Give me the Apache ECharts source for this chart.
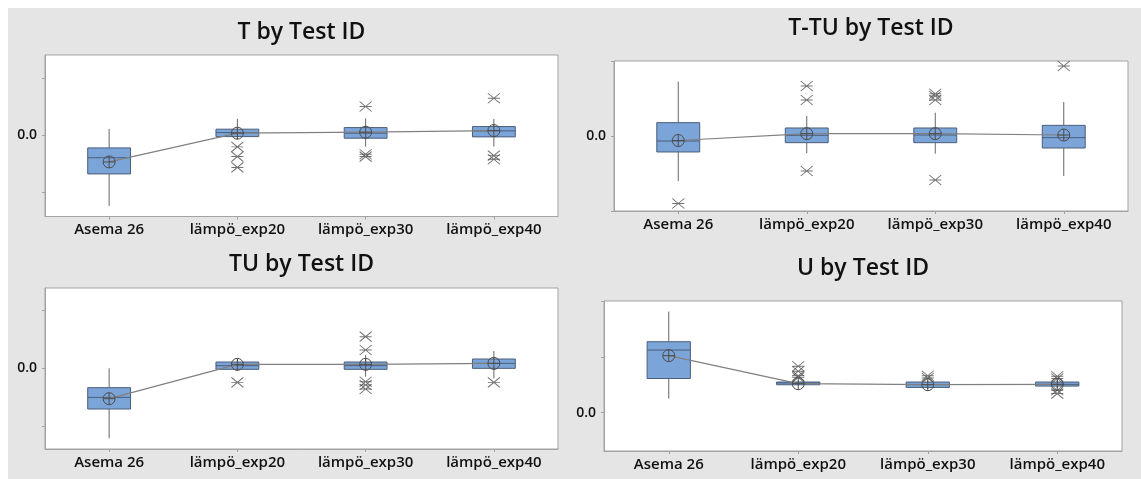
<!DOCTYPE html>
<html>
<head>
<meta charset="utf-8">
<script src="https://cdn.jsdelivr.net/npm/echarts@6.0.0/dist/echarts.min.js"></script>
<style>
  html, body { margin: 0; padding: 0; background: #ffffff; }
  #wrap { position: relative; width: 1141px; height: 479px; overflow: hidden; }
  #bg { position: absolute; left: 8px; top: 8px; width: 1133px; height: 471px; background: #e5e5e5; }
  #chart { position: absolute; left: 0; top: 0; width: 1141px; height: 479px; }
</style>
</head>
<body>
<div id="wrap"><div id="bg"></div><div id="chart"></div></div>
<script>
// ---------------- DATA ----------------
const categories = ['Asema 26', 'lämpö_exp20', 'lämpö_exp30', 'lämpö_exp40'];
const titles = ['T by Test ID', 'T-TU by Test ID', 'TU by Test ID', 'U by Test ID'];
const zeroLabel = [0];

// box stats per category: [lower whisker, Q1, median, Q3, upper whisker]
const tBoxes = [
  [-1.246, -0.684, -0.40, -0.228, 0.105],
  [-0.08, -0.03, 0.04, 0.10, 0.28],
  [-0.205, -0.058, 0.03, 0.128, 0.29],
  [-0.205, -0.035, 0.07, 0.146, 0.28]
];
const tMeans = [-0.474, 0.03, 0.047, 0.076];
const tOutliers = [[1, -0.21], [1, -0.38], [1, -0.57], [2, 0.497], [2, -0.34], [2, -0.38], [3, 0.643], [3, -0.363], [3, -0.427]];

const ttuBoxes = [
  [-0.60, -0.213, -0.067, 0.178, 0.724],
  [-0.231, -0.089, 0.009, 0.107, 0.267],
  [-0.236, -0.089, 0.013, 0.107, 0.311],
  [-0.533, -0.16, -0.022, 0.142, 0.453]
];
const ttuMeans = [-0.06, 0.031, 0.031, 0.013];
const ttuOutliers = [[0, -0.90], [1, 0.667], [1, 0.48], [1, -0.467], [2, 0.564], [2, 0.533], [2, 0.48], [2, -0.587], [3, 0.933]];

const tuBoxes = [
  [-1.207, -0.701, -0.50, -0.333, 0.0],
  [-0.046, -0.017, 0.046, 0.109, 0.155],
  [-0.144, -0.017, 0.046, 0.109, 0.23],
  [-0.172, 0.0, 0.086, 0.161, 0.299]
];
const tuMeans = [-0.523, 0.069, 0.069, 0.086];
const tuOutliers = [[1, -0.241], [2, 0.546], [2, 0.316], [2, -0.23], [2, -0.287], [2, -0.356], [3, -0.241]];

const uBoxes = [
  [0.25, 0.61, 1.12, 1.27, 1.81],
  [0.49, 0.498, 0.53, 0.547, 0.57],
  [0.42, 0.45, 0.50, 0.547, 0.57],
  [0.44, 0.474, 0.505, 0.547, 0.59]
];
const uMeans = [1.02, 0.517, 0.50, 0.505];
const uOutliers = [[1, 0.83], [1, 0.74], [1, 0.66], [1, 0.63], [2, 0.66], [2, 0.62], [3, 0.65], [3, 0.61], [3, 0.40], [3, 0.34]];

// y-axis ranges and tick values
const yRanges = [[-1.43, 1.40], [-1, 1], [-1.39, 1.385], [-0.69, 2.0]];
const yTickValues = [[-1, 0, 1], [-1, 0, 1], [-1, 0, 1], [0, 1, 2]];

// ---------------- LAYOUT / STYLE ----------------
const panels = [
  { boxes: tBoxes, means: tMeans, outliers: tOutliers, grid: { left: 45, top: 55, width: 513, height: 161.5 }, titleY: 21 },
  { boxes: ttuBoxes, means: ttuMeans, outliers: ttuOutliers, grid: { left: 614, top: 61, width: 514, height: 150 }, titleY: 17 },
  { boxes: tuBoxes, means: tuMeans, outliers: tuOutliers, grid: { left: 45, top: 288, width: 513, height: 161 }, titleY: 253 },
  { boxes: uBoxes, means: uMeans, outliers: uOutliers, grid: { left: 604, top: 301, width: 518, height: 150 }, titleY: 257 }
];

const FONT = '"Open Sans", "Noto Sans", sans-serif';
const frameColor = '#a3a3a3';
const boxFill = '#7ba4d8';
const boxStroke = '#4b5e7a';
const whiskerColor = '#666666';
const starPath = 'path://M0,0L12,10M12,0L0,10M0,5L12,5';
const meanPath = 'path://M0,6A6,6,0,1,1,12,6A6,6,0,1,1,0,6ZM6,0L6,12M0,6L12,6';

function renderBox(params, api) {
  const x = api.value(0);
  const lo = api.coord([x, api.value(1)]);
  const q1 = api.coord([x, api.value(2)]);
  const md = api.coord([x, api.value(3)]);
  const q3 = api.coord([x, api.value(4)]);
  const hi = api.coord([x, api.value(5)]);
  const hw = api.size([1, 0])[0] * 0.167;
  const ls = { stroke: whiskerColor, lineWidth: 1 };
  return {
    type: 'group',
    children: [
      { type: 'line', shape: { x1: hi[0], y1: hi[1], x2: q3[0], y2: q3[1] }, style: ls },
      { type: 'line', shape: { x1: q1[0], y1: q1[1], x2: lo[0], y2: lo[1] }, style: ls },
      { type: 'rect', shape: { x: q3[0] - hw, y: q3[1], width: 2 * hw, height: Math.max(q1[1] - q3[1], 1) },
        style: { fill: boxFill, stroke: boxStroke, lineWidth: 1 } },
      { type: 'line', shape: { x1: md[0] - hw, y1: md[1], x2: md[0] + hw, y2: md[1] }, style: { stroke: boxStroke, lineWidth: 1 } }
    ]
  };
}

const option = {
  animation: false,
  backgroundColor: 'transparent',
  title: [],
  grid: [],
  xAxis: [],
  yAxis: [],
  series: []
};

panels.forEach((p, i) => {
  const g = p.grid;
  option.title.push({
    text: titles[i],
    left: g.left + g.width / 2,
    top: p.titleY,
    textAlign: 'center',
    padding: 0,
    textStyle: { fontFamily: FONT, fontSize: 23, fontWeight: 600, color: '#111' }
  });
  option.grid.push({
    left: g.left, top: g.top, width: g.width, height: g.height,
    show: true, backgroundColor: '#ffffff', borderColor: frameColor, borderWidth: 1
  });
  option.xAxis.push({
    type: 'category', gridIndex: i, data: categories, boundaryGap: true,
    axisLine: { show: true, onZero: false, lineStyle: { color: frameColor, width: 1 } },
    axisTick: { show: true, alignWithLabel: true, length: 3, lineStyle: { color: frameColor } },
    axisLabel: { color: '#111', fontFamily: FONT, fontSize: 15, fontWeight: 600, margin: 6 },
    splitLine: { show: false }
  });
  option.yAxis.push({
    type: 'value', gridIndex: i, min: yRanges[i][0], max: yRanges[i][1],
    axisLine: { show: true, onZero: false, lineStyle: { color: frameColor, width: 1 } },
    axisTick: { show: true, length: 3, customValues: yTickValues[i], lineStyle: { color: frameColor } },
    axisLabel: { show: true, customValues: zeroLabel, formatter: v => Number(v).toFixed(1),
      color: '#111', fontFamily: FONT, fontSize: 14, fontWeight: 600, margin: 8 },
    splitLine: { show: false }
  });
  option.series.push({
    type: 'custom', xAxisIndex: i, yAxisIndex: i, z: 2,
    renderItem: renderBox,
    encode: { x: 0, y: [1, 2, 3, 4, 5] },
    data: p.boxes.map((b, k) => [k].concat(b))
  });
  option.series.push({
    type: 'line', xAxisIndex: i, yAxisIndex: i, z: 3,
    data: p.means,
    symbol: meanPath, symbolSize: 12,
    itemStyle: { color: 'rgba(0,0,0,0)', borderColor: '#4d4d4d', borderWidth: 1 },
    lineStyle: { color: '#808080', width: 1.2 }
  });
  option.series.push({
    type: 'scatter', xAxisIndex: i, yAxisIndex: i, z: 4,
    data: p.outliers,
    symbol: starPath, symbolSize: [12, 10],
    itemStyle: { color: 'rgba(0,0,0,0)', borderColor: '#505050', borderWidth: 1 }
  });
});

const chart = echarts.init(document.getElementById('chart'), null, { renderer: 'canvas' });
chart.setOption(option);
</script>
</body>
</html>
